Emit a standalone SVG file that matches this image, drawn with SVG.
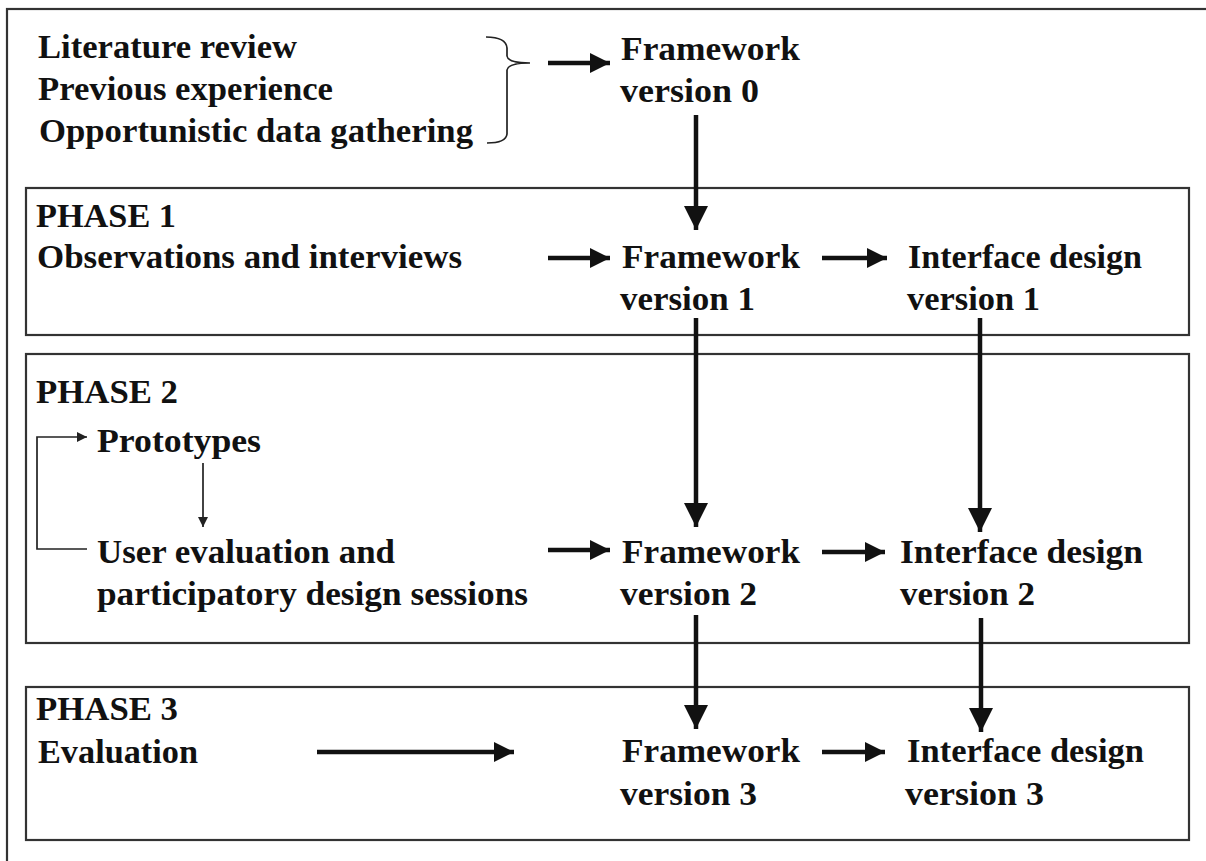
<svg xmlns="http://www.w3.org/2000/svg" width="1206" height="861" viewBox="0 0 1206 861">
<defs>
<style>
text{font-family:"Liberation Serif","Times New Roman",serif;font-weight:bold;font-size:34px;fill:#111}
.box{fill:none;stroke:#333;stroke-width:2.2}
.thick{fill:none;stroke:#111;stroke-width:4.5}
.thin{fill:none;stroke:#222;stroke-width:1.7}
</style>
<marker id="ah" markerUnits="userSpaceOnUse" markerWidth="22" markerHeight="22" refX="20" refY="10" orient="auto"><path d="M0,0 L20,10 L0,20 Z" fill="#111"/></marker>
<marker id="ahv" markerUnits="userSpaceOnUse" markerWidth="26" markerHeight="26" refX="24" refY="12" orient="auto"><path d="M0,0 L24,12 L0,24 Z" fill="#111"/></marker>
<marker id="ahs" markerUnits="userSpaceOnUse" markerWidth="12" markerHeight="12" refX="10" refY="5" orient="auto"><path d="M0,0 L10,5 L0,10 Z" fill="#222"/></marker>
</defs>
<rect width="1206" height="861" fill="#fff"/>
<rect x="7" y="9" width="1230" height="880" class="box"/>

<g id="phase1"><rect x="26" y="188" width="1163" height="147" class="box"/>
<text x="36" y="227" textLength="140" lengthAdjust="spacingAndGlyphs">PHASE 1</text></g>
<g id="phase2"><rect x="26" y="354" width="1163" height="289" class="box"/>
<text x="36" y="403" textLength="142" lengthAdjust="spacingAndGlyphs">PHASE 2</text></g>
<g id="phase3"><rect x="26" y="687" width="1163" height="153" class="box"/>
<text x="36" y="720" textLength="142" lengthAdjust="spacingAndGlyphs">PHASE 3</text></g>

<g id="sources">
<text x="38" y="58" textLength="259" lengthAdjust="spacingAndGlyphs">Literature review</text>
<text x="38" y="100" textLength="295" lengthAdjust="spacingAndGlyphs">Previous experience</text>
<text x="39" y="142" textLength="434" lengthAdjust="spacingAndGlyphs">Opportunistic data gathering</text>
<path d="M486,37 Q506,37 507,48 L507,56 Q508,63 530,63 Q508,63 507,70 L507,134 Q506,143 487,143" class="thin"/>
</g>
<g id="fw0"><text x="621" y="60" textLength="179" lengthAdjust="spacingAndGlyphs">Framework</text>
<text x="620" y="102" textLength="139" lengthAdjust="spacingAndGlyphs">version 0</text></g>

<g id="obs"><text x="37" y="268" textLength="425" lengthAdjust="spacingAndGlyphs">Observations and interviews</text></g>
<g id="fw1"><text x="622" y="268" textLength="178" lengthAdjust="spacingAndGlyphs">Framework</text>
<text x="620" y="310" textLength="135" lengthAdjust="spacingAndGlyphs">version 1</text></g>
<g id="id1"><text x="908" y="268" textLength="234" lengthAdjust="spacingAndGlyphs">Interface design</text>
<text x="907" y="310" textLength="133" lengthAdjust="spacingAndGlyphs">version 1</text></g>

<g id="proto"><text x="97" y="452" textLength="164" lengthAdjust="spacingAndGlyphs">Prototypes</text></g>
<g id="ue"><text x="97" y="563" textLength="298" lengthAdjust="spacingAndGlyphs">User evaluation and</text>
<text x="97" y="605" textLength="431" lengthAdjust="spacingAndGlyphs">participatory design sessions</text></g>
<g id="fw2"><text x="622" y="563" textLength="178" lengthAdjust="spacingAndGlyphs">Framework</text>
<text x="620" y="605" textLength="137" lengthAdjust="spacingAndGlyphs">version 2</text></g>
<g id="id2"><text x="900" y="563" textLength="243" lengthAdjust="spacingAndGlyphs">Interface design</text>
<text x="900" y="605" textLength="135" lengthAdjust="spacingAndGlyphs">version 2</text></g>

<g id="eval"><text x="38" y="763" textLength="160" lengthAdjust="spacingAndGlyphs">Evaluation</text></g>
<g id="fw3"><text x="622" y="762" textLength="178" lengthAdjust="spacingAndGlyphs">Framework</text>
<text x="620" y="805" textLength="137" lengthAdjust="spacingAndGlyphs">version 3</text></g>
<g id="id3"><text x="907" y="762" textLength="237" lengthAdjust="spacingAndGlyphs">Interface design</text>
<text x="905" y="805" textLength="139" lengthAdjust="spacingAndGlyphs">version 3</text></g>

<g id="connectors">
<line x1="548" y1="63" x2="610" y2="63" class="thick" marker-end="url(#ah)"/>
<line x1="696" y1="115" x2="696" y2="230" class="thick" marker-end="url(#ahv)"/>
<line x1="548" y1="258" x2="610" y2="258" class="thick" marker-end="url(#ah)"/>
<line x1="822" y1="258" x2="887" y2="258" class="thick" marker-end="url(#ah)"/>
<line x1="696" y1="318" x2="696" y2="527" class="thick" marker-end="url(#ahv)"/>
<line x1="980" y1="318" x2="980" y2="532" class="thick" marker-end="url(#ahv)"/>
<line x1="548" y1="550" x2="610" y2="550" class="thick" marker-end="url(#ah)"/>
<line x1="822" y1="552" x2="885" y2="552" class="thick" marker-end="url(#ah)"/>
<line x1="696" y1="615" x2="696" y2="729" class="thick" marker-end="url(#ahv)"/>
<line x1="981" y1="618" x2="981" y2="732" class="thick" marker-end="url(#ahv)"/>
<line x1="317" y1="752" x2="514" y2="752" class="thick" marker-end="url(#ah)"/>
<line x1="822" y1="752" x2="885" y2="752" class="thick" marker-end="url(#ah)"/>
<path d="M87,549 H37 V437 H87" class="thin" marker-end="url(#ahs)"/>
<line x1="203" y1="463" x2="203" y2="527" class="thin" marker-end="url(#ahs)"/>
</g>
</svg>
